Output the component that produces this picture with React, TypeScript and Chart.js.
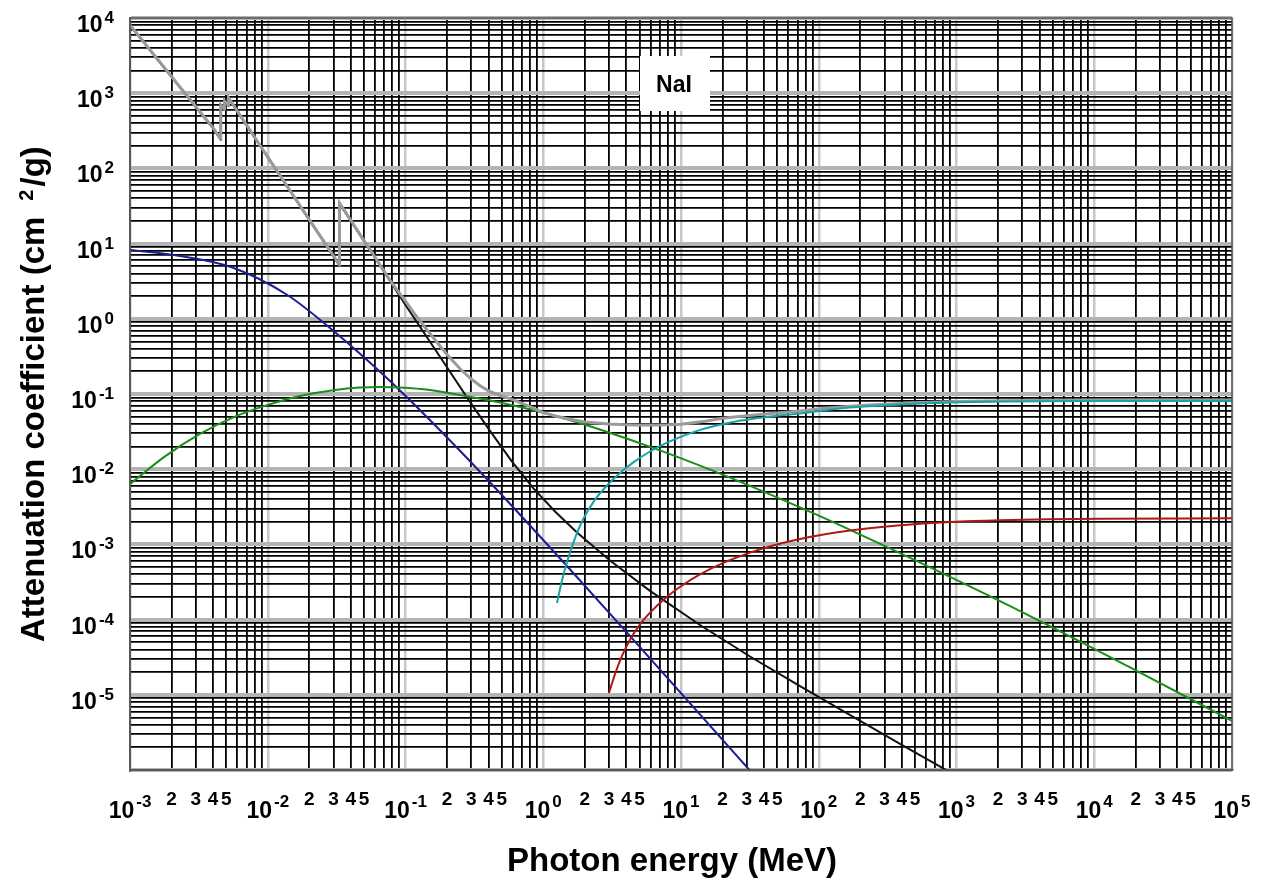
import React, { useEffect, useRef } from "react";
import { Chart, registerables } from "chart.js";

Chart.register(...registerables);

// ---- axis / tick definitions ----
const xDecadeExponents = [-3, -2, -1, 0, 1, 2, 3, 4, 5];
const yDecadeExponents = [-6, -5, -4, -3, -2, -1, 0, 1, 2, 3, 4];
const yLabelExponents = [4, 3, 2, 1, 0, -1, -2, -3, -4, -5];
const minorMultipliers = [2, 3, 4, 5, 6, 7, 8, 9];
const xMinorLabelDigits = [2, 3, 4, 5];

// ---- data: photon energy (MeV) vs mass attenuation coefficient (cm2/g), NaI ----
const totalEnergy = [0.001, 0.002, 0.003, 0.004, 0.004557, 0.004558, 0.00485, 0.004851, 0.005188, 0.005189, 0.006, 0.008, 0.01, 0.015, 0.02, 0.03, 0.03317, 0.03318, 0.04, 0.05, 0.06, 0.08, 0.1, 0.12, 0.15, 0.2, 0.25, 0.3, 0.35, 0.4, 0.5, 0.6, 0.8, 1, 1.25, 1.5, 2, 3, 4, 5, 6, 8, 10, 15, 20, 30, 50, 80, 100, 200, 500, 1000, 2070, 10000, 100000];
const totalCoeff = [8070, 1670, 665, 348, 245, 700, 610, 790, 690, 870, 583, 263, 142, 46.4, 21, 6.86, 5.2, 34.7, 20.5, 11.0, 6.6, 2.95, 1.72, 1.08, 0.64, 0.335, 0.215, 0.158, 0.128, 0.11, 0.094, 0.084, 0.068, 0.0565, 0.0505, 0.0468, 0.0425, 0.0398, 0.039, 0.0387, 0.0387, 0.039, 0.0396, 0.0435, 0.0475, 0.0515, 0.056, 0.0605, 0.0635, 0.0705, 0.0765, 0.0795, 0.0815, 0.0829, 0.0834];

const photoEnergy = [0.001, 0.002, 0.003, 0.004, 0.004557, 0.004558, 0.00485, 0.004851, 0.005188, 0.005189, 0.006, 0.008, 0.01, 0.015, 0.02, 0.03, 0.03317, 0.03318, 0.04, 0.05, 0.06, 0.08, 0.1, 0.2034, 0.2938, 0.4107, 0.5931, 0.8425, 1.217, 1.758, 3.052, 5.957, 13.74, 31.7, 73.1, 389, 825, 2070];
const photoCoeff = [7950, 1645, 655, 343, 241, 690, 601, 778, 680, 857, 574, 259, 140, 45.7, 20.7, 6.75, 5.12, 34.2, 20.2, 10.8, 6.48, 2.88, 1.526, 0.2163, 0.0787, 0.0324, 0.01262, 0.00564, 0.00274, 0.00144, 0.000612, 0.000241, 0.0000847, 0.0000323, 0.000013, 0.00000223, 0.00000102, 0.00000039];

const coherentEnergy = [0.001, 0.00231, 0.0056, 0.0138, 0.0283, 0.0526, 0.0912, 0.2105, 0.485, 1.486, 4.055, 32.7, 169];
const coherentCoeff = [8.22, 6.84, 4.78, 2.09, 0.755, 0.283, 0.1114, 0.0241, 0.00483, 0.000516, 0.0000671, 0.00000092, 0.000000032];

const comptonEnergy = [0.001, 0.001795, 0.00322, 0.00578, 0.00988, 0.01715, 0.0298, 0.0468, 0.0653, 0.0912, 0.1507, 0.2796, 0.4855, 0.8425, 1.486, 2.58, 7.04, 23.9, 73.1, 168.7, 2070, 19100, 100000];
const comptonCoeff = [0.00635, 0.0148, 0.0295, 0.05, 0.0711, 0.094, 0.112, 0.122, 0.124, 0.122, 0.113, 0.0931, 0.0773, 0.0612, 0.0462, 0.0338, 0.0178, 0.00743, 0.0031, 0.00156, 0.000176, 0.0000221, 0.0000045];

const pairNucEnergy = [1.258, 1.368, 1.487, 1.7, 1.944, 2.375, 2.903, 3.608, 4.483, 5.957, 7.914, 13.74, 23.86, 42.1, 73.1, 168.7, 389, 897, 2070, 11020, 100000];
const pairNucCoeff = [0.000166, 0.000331, 0.000579, 0.00121, 0.00215, 0.00394, 0.00607, 0.00889, 0.01222, 0.01719, 0.02259, 0.03334, 0.04246, 0.0496, 0.05521, 0.06615, 0.07251, 0.07709, 0.07948, 0.0807, 0.0812];

const pairElecEnergy = [3.001, 3.318, 3.73, 4.264, 5.039, 5.957, 7.914, 10.69, 13.74, 20.86, 31.7, 48.1, 73.1, 111, 168.7, 389, 897, 2070, 11000, 100000];
const pairElecCoeff = [0.00001057, 0.00001885, 0.0000329, 0.0000541, 0.0000862, 0.0001236, 0.000201, 0.000302, 0.0004, 0.00058, 0.000778, 0.000982, 0.00118, 0.001365, 0.00153, 0.0018, 0.00199, 0.0021, 0.0022, 0.00222];

const FONT = "'Liberation Sans', Arial, Helvetica, sans-serif";

function buildGridValues(exps: number[]) {
  const out: number[] = [];
  for (let i = 0; i < exps.length; i++) {
    const base = Math.pow(10, exps[i]);
    out.push(base);
    if (i < exps.length - 1) for (const m of minorMultipliers) out.push(m * base);
  }
  return out;
}
const xGridValues = buildGridValues(xDecadeExponents);
const yGridValues = buildGridValues(yDecadeExponents);

function isDecade(v: number | undefined) {
  if (!v) return false;
  const l = Math.log10(v);
  return Math.abs(l - Math.round(l)) < 1e-6;
}

function zip(xs: number[], ys: number[]) {
  return xs.map((x, i) => ({ x, y: ys[i] }));
}

const labelPlugin = {
  id: "customLabels",
  afterDraw(chart: any) {
    const { ctx, chartArea: ca, scales } = chart;
    const xs = scales.x;
    const ys = scales.y;
    ctx.save();
    // frame
    ctx.strokeStyle = "#555";
    ctx.lineWidth = 1.5;
    ctx.strokeRect(ca.left, ca.top, ca.right - ca.left, ca.bottom - ca.top);

    ctx.fillStyle = "#000";
    ctx.textBaseline = "alphabetic";
    ctx.textAlign = "left";

    // y tick labels
    for (const e of yLabelExponents) {
      const py = ys.getPixelForValue(Math.pow(10, e));
      const expText = String(e);
      ctx.font = `bold 17px ${FONT}`;
      const ew = ctx.measureText(expText).width;
      ctx.font = `bold 23px ${FONT}`;
      const bw = ctx.measureText("10").width;
      const right = 114;
      ctx.fillText("10", right - ew - 2 - bw, py + 14);
      ctx.font = `bold 17px ${FONT}`;
      ctx.fillText(expText, right - ew, py + 5);
    }

    // x tick labels (decades)
    for (const e of xDecadeExponents) {
      const px = xs.getPixelForValue(Math.pow(10, e));
      const expText = String(e);
      ctx.font = `bold 17px ${FONT}`;
      const ew = ctx.measureText(expText).width;
      ctx.font = `bold 23px ${FONT}`;
      const bw = ctx.measureText("10").width;
      const start = px - (bw + 2 + ew) / 2;
      ctx.fillText("10", start, 818);
      ctx.font = `bold 17px ${FONT}`;
      ctx.fillText(expText, start + bw + 2, 807);
    }

    // x minor labels 2 3 4 5
    ctx.textAlign = "center";
    ctx.font = `bold 19px ${FONT}`;
    for (let i = 0; i < xDecadeExponents.length - 1; i++) {
      const base = Math.pow(10, xDecadeExponents[i]);
      for (const d of xMinorLabelDigits) {
        const px = xs.getPixelForValue(d * base);
        ctx.fillText(String(d), px, 805);
      }
    }

    // x title
    ctx.font = `bold 33px ${FONT}`;
    ctx.textAlign = "center";
    ctx.fillText("Photon energy (MeV)", 672, 871);

    // y title (rotated)
    ctx.save();
    ctx.translate(44, 642);
    ctx.rotate(-Math.PI / 2);
    ctx.textAlign = "left";
    ctx.font = `bold 33px ${FONT}`;
    const main = "Attenuation coefficient (cm";
    const w1 = ctx.measureText(main).width;
    ctx.fillText(main, 0, 0);
    ctx.font = `bold 20px ${FONT}`;
    const supX = w1 + 16;
    ctx.fillText("2", supX, -11);
    const w2 = ctx.measureText("2").width;
    ctx.font = `bold 33px ${FONT}`;
    ctx.fillText("/g)", supX + w2 + 3, 0);
    ctx.restore();

    // NaI label box
    ctx.fillStyle = "#fff";
    ctx.fillRect(640, 56, 70, 55);
    ctx.fillStyle = "#000";
    ctx.textAlign = "center";
    ctx.font = `bold 23px ${FONT}`;
    ctx.fillText("NaI", 674, 92);

    ctx.restore();
  },
};

export default function App() {
  const ref = useRef<HTMLCanvasElement>(null);

  useEffect(() => {
    const canvas = ref.current;
    if (!canvas) return;
    const line = (label: string, xs: number[], ys: number[], color: string, width: number, order: number, mono: boolean) => ({
      label,
      data: zip(xs, ys),
      borderColor: color,
      backgroundColor: color,
      borderWidth: width,
      pointRadius: 0,
      fill: false,
      order,
      tension: 0,
      cubicInterpolationMode: mono ? ("monotone" as const) : ("default" as const),
    });

    const chart = new Chart(canvas, {
      type: "line",
      data: {
        datasets: [
          line("Pair (nuclear field)", pairNucEnergy, pairNucCoeff, "#17a3a6", 2, 0, true),
          line("Total", totalEnergy, totalCoeff, "#9a9a9a", 3, 1, false),
          line("Pair (electron field)", pairElecEnergy, pairElecCoeff, "#b01818", 2, 2, true),
          line("Incoherent", comptonEnergy, comptonCoeff, "#169016", 2, 3, true),
          line("Coherent", coherentEnergy, coherentCoeff, "#1c1c96", 2, 4, true),
          line("Photoelectric", photoEnergy, photoCoeff, "#111111", 2, 5, false),
        ] as any,
      },
      options: {
        responsive: false,
        maintainAspectRatio: false,
        devicePixelRatio: 1,
        animation: false,
        layout: { padding: { left: 130, top: 18, right: 40, bottom: 118 } },
        plugins: {
          legend: { display: false },
          tooltip: { enabled: false },
          title: { display: false },
        },
        scales: {
          x: {
            type: "logarithmic",
            position: "bottom",
            min: 1e-3,
            max: 1e5,
            afterBuildTicks: (scale: any) => {
              scale.ticks = xGridValues.map((v) => ({ value: v }));
            },
            ticks: { display: false },
            grid: {
              drawTicks: false,
              color: (c: any) => (isDecade(c.tick && c.tick.value) ? "#c8c8c8" : "#000000"),
              lineWidth: (c: any) => (isDecade(c.tick && c.tick.value) ? 2.5 : 1.8),
            },
            border: { display: true, color: "#6a6a6a", width: 2 },
          },
          y: {
            type: "logarithmic",
            position: "left",
            min: 1e-6,
            max: 1e4,
            afterBuildTicks: (scale: any) => {
              scale.ticks = yGridValues.map((v) => ({ value: v }));
            },
            ticks: { display: false },
            grid: {
              drawTicks: false,
              color: (c: any) => (isDecade(c.tick && c.tick.value) ? "#b4b4b4" : "#000000"),
              lineWidth: (c: any) => (isDecade(c.tick && c.tick.value) ? 4 : 1.8),
            },
            border: { display: true, color: "#6a6a6a", width: 2 },
          },
        } as any,
      },
      plugins: [labelPlugin],
    });
    return () => chart.destroy();
  }, []);

  return (
    <div style={{ position: "absolute", left: 0, top: 0, width: 1272, height: 888, background: "#fff" }}>
      <canvas ref={ref} width={1272} height={888} style={{ display: "block", width: 1272, height: 888 }} />
    </div>
  );
}
